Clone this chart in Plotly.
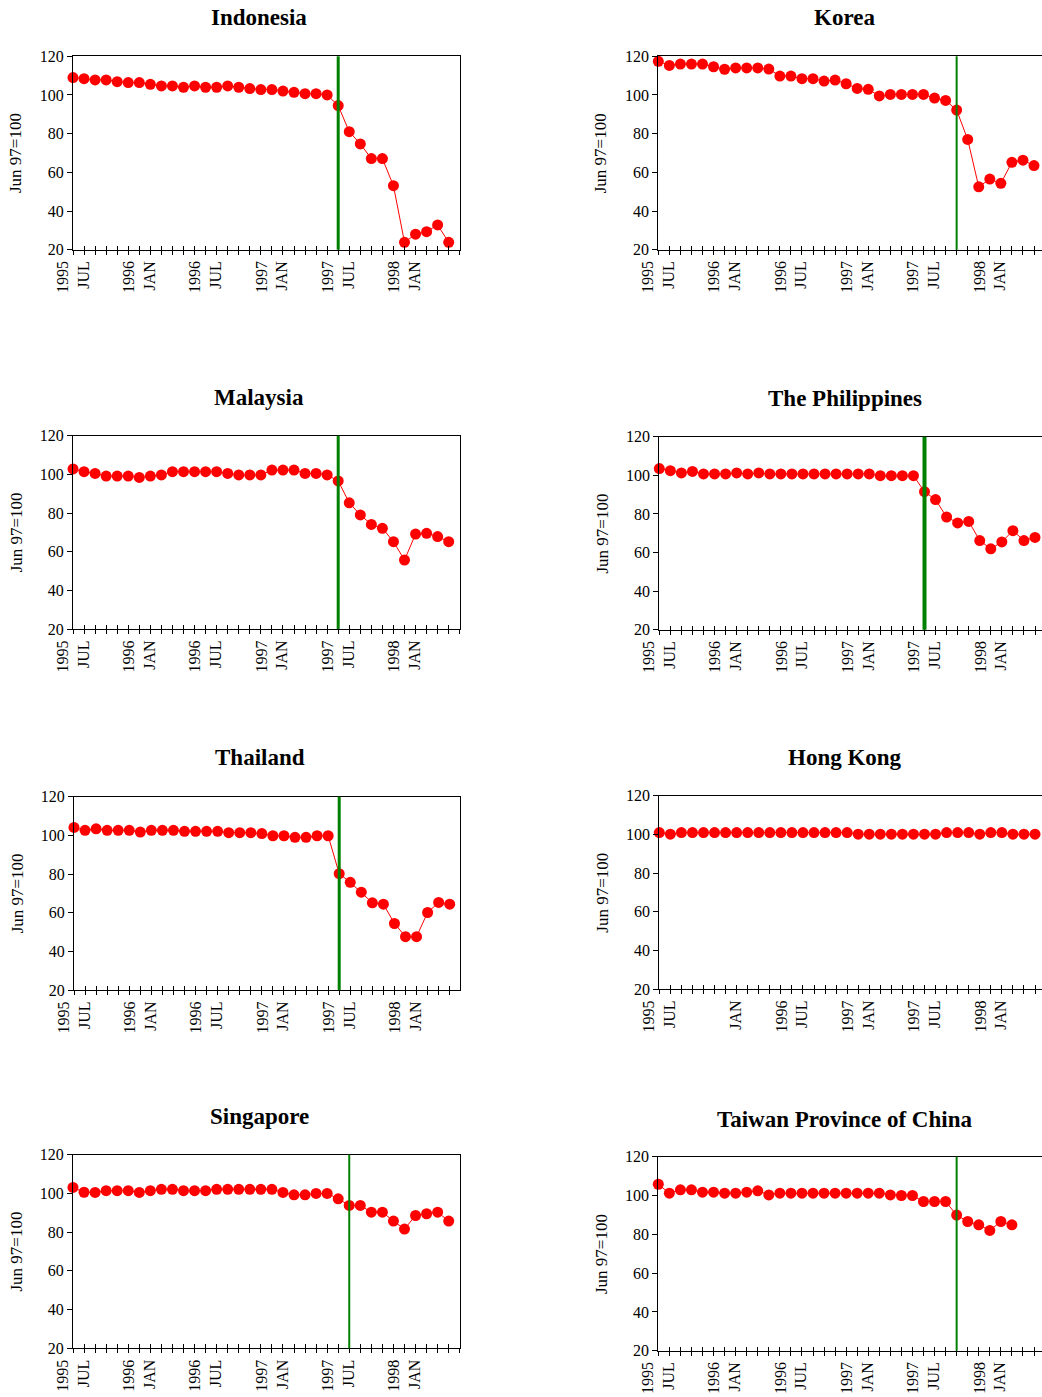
import plotly.graph_objects as go

W, H = 1042, 1397

# ---------------- data ----------------
months = ["Jul 1995", "Aug 1995", "Sep 1995", "Oct 1995", "Nov 1995", "Dec 1995",
          "Jan 1996", "Feb 1996", "Mar 1996", "Apr 1996", "May 1996", "Jun 1996",
          "Jul 1996", "Aug 1996", "Sep 1996", "Oct 1996", "Nov 1996", "Dec 1996",
          "Jan 1997", "Feb 1997", "Mar 1997", "Apr 1997", "May 1997", "Jun 1997",
          "Jul 1997", "Aug 1997", "Sep 1997", "Oct 1997", "Nov 1997", "Dec 1997",
          "Jan 1998", "Feb 1998", "Mar 1998", "Apr 1998", "May 1998", "Jun 1998"]

label_months = ["Jul 1995", "Jan 1996", "Jul 1996", "Jan 1997", "Jul 1997", "Jan 1998"]
tick_labels = ["1995<br>JUL", "1996<br>JAN", "1996<br>JUL", "1997<br>JAN", "1997<br>JUL", "1998<br>JAN"]
tick_labels_hk = ["1995<br>JUL", " <br>JAN", "1996<br>JUL", "1997<br>JAN", "1997<br>JUL", "1998<br>JAN"]

y_ticks = [20, 40, 60, 80, 100, 120]

indonesia = [109, 108.4, 107.8, 107.8, 106.9, 106.4, 106.4, 105.5, 104.7, 104.7,
             104, 104.7, 104, 104, 104.7, 104, 103.3, 102.8, 102.8, 102,
             101.4, 100.7, 100.7, 100, 94.5, 81, 74.7, 67.1, 67.1, 53.1,
             23.8, 28, 29.3, 32.8, 23.8]
korea = [117.4, 115.3, 116, 116, 116, 114.6, 113.3, 114, 114, 114,
         113.4, 109.8, 109.8, 108.4, 108.4, 107.2, 107.7, 105.8, 103.4, 102.9,
         99.5, 100.3, 100.3, 100.3, 100.3, 98.4, 97.2, 92.2, 77, 52.5,
         56.5, 54.3, 65.2, 66.3, 63.5]
malaysia = [102.8, 101.4, 100.5, 99.1, 99.1, 99.1, 98.4, 99.1, 99.7, 101.4,
            101.4, 101.4, 101.4, 101.4, 100.5, 99.7, 99.7, 99.7, 102.2, 102.2,
            102.2, 100.5, 100.5, 99.7, 96.6, 85.3, 79, 74.1, 72.1, 65.2,
            55.7, 69.1, 69.5, 67.8, 65.2]
philippines = [103.5, 102.4, 101.2, 102, 100.7, 100.7, 100.7, 101.2, 100.7, 101.2,
               100.7, 100.7, 100.7, 100.7, 100.7, 100.7, 100.7, 100.7, 100.7, 100.7,
               99.8, 99.8, 99.8, 99.8, 91.5, 87.4, 78.4, 75.3, 76.1, 66.2,
               61.9, 65.5, 71.3, 66.2, 67.8]
thailand = [104.1, 102.6, 103.4, 102.6, 102.6, 102.6, 101.7, 102.6, 102.6, 102.6,
            102.1, 102.1, 102.1, 102.1, 101.4, 101.4, 101.4, 100.9, 99.8, 99.8,
            99, 99, 99.8, 99.8, 80.2, 75.7, 70.6, 65.1, 64.4, 54.4,
            47.6, 47.6, 60.1, 65.3, 64.4]
hong_kong = [100.9, 100.1, 100.9, 100.9, 100.9, 100.9, 100.9, 100.9, 100.9, 100.9,
             100.9, 100.9, 100.9, 100.9, 100.9, 100.9, 100.9, 100.9, 100.1, 100.1,
             100.1, 100.1, 100.1, 100.1, 100.1, 100.1, 100.9, 100.9, 100.9, 100.1,
             100.9, 100.9, 100.1, 100.1, 100.1]
singapore = [103.1, 100.6, 100.5, 101.4, 101.4, 101.4, 100.5, 101.4, 102.1, 102.1,
             101.4, 101.4, 101.4, 102.1, 102.1, 102.1, 102.1, 102.1, 102.1, 100.5,
             99.3, 99.3, 100, 100, 97.2, 93.8, 93.8, 90.3, 90.3, 85.7,
             81.6, 88.6, 89.5, 90.3, 85.7]
taiwan = [105.8, 101.2, 102.9, 102.9, 101.7, 101.7, 101.2, 101.2, 101.7, 102.4,
          100.3, 101.2, 101.2, 101.2, 101.2, 101.2, 101.2, 101.2, 101.2, 101.2,
          101.2, 100.3, 100, 100, 96.9, 96.9, 96.9, 89.9, 86.6, 84.9,
          82, 86.6, 84.9]

titles = ["Indonesia", "Korea", "Malaysia", "The Philippines",
          "Thailand", "Hong Kong", "Singapore", "Taiwan Province of China"]
series = [indonesia, korea, malaysia, philippines, thailand, hong_kong, singapore, taiwan]
crisis_months = ["Jul 1997", "Oct 1997", "Jul 1997", "Jul 1997",
                 "Jul 1997", None, "Aug 1997", "Oct 1997"]
panel_tick_labels = [tick_labels, tick_labels, tick_labels, tick_labels,
                     tick_labels, tick_labels_hk, tick_labels, tick_labels]

# ---------------- layout (pixel boxes: left, top, right, bottom) ----------------
boxes = [
    (73, 56.3, 460, 249.7), (658.3, 56.3, 1042, 249.7),
    (73, 435.7, 460, 629), (659.3, 436.7, 1042, 629.7),
    (74, 796.7, 460, 990), (659.3, 795.7, 1042, 989),
    (73, 1154.7, 460, 1348.3), (658.3, 1156.7, 1042, 1350.7),
]
title_pos = [(259, 18), (844, 18), (259, 397), (845, 398),
             (260, 757), (845, 757), (259, 1116), (844, 1119)]
green_width = [3, 2, 3, 4, 3, 0, 2, 2]
unit_px = 11.05  # pixel width per month in the reference

FONT = "Liberation Serif, Times New Roman, serif"
RED = "#FF0000"
GREEN = "#008000"

fig = go.Figure()
layout = dict(
    width=W, height=H, autosize=False,
    margin=dict(l=0, r=0, t=0, b=0, pad=0, autoexpand=False),
    paper_bgcolor="white", plot_bgcolor="white", showlegend=False,
    font=dict(family=FONT, color="black", size=16),
)
annotations = []
shapes = []

x_idx = list(range(len(months)))
label_idx = [months.index(m) for m in label_months]
n = len(titles)

for i in range(n):
    k = i + 1
    xa = "x" if k == 1 else f"x{k}"
    ya = "y" if k == 1 else f"y{k}"
    ov = f"x{k + n}"
    l, t, r, b = boxes[i]
    xd = [l / W, r / W]
    yd = [1 - b / H, 1 - t / H]
    xmax = (r - l) / unit_px

    vals = series[i]
    fig.add_trace(go.Scatter(
        x=x_idx[:len(vals)], y=vals, mode="lines+markers",
        line=dict(color=RED, width=1),
        marker=dict(color=RED, size=11, line=dict(width=0)),
        cliponaxis=False, xaxis=xa, yaxis=ya, hoverinfo="skip"))
    # invisible trace for the overlay axis (inner half of the crossing ticks)
    fig.add_trace(go.Scatter(x=[None], y=[None], xaxis=ov, yaxis=ya,
                             mode="markers", hoverinfo="skip"))

    txt = []
    for j in x_idx:
        txt.append(panel_tick_labels[i][label_idx.index(j)] if j in label_idx else "")

    is_right = (i % 2 == 1)
    layout[f"xaxis{k}"] = dict(
        domain=xd, anchor=ya, range=[0, xmax], automargin=False,
        tickmode="array", tickvals=x_idx, ticktext=txt, tickangle=-90,
        ticks="outside", ticklen=4, tickwidth=1, tickcolor="black",
        showline=True, linecolor="black", linewidth=1, mirror=True,
        showgrid=False, zeroline=False,
        tickfont=dict(family=FONT, size=16, color="black"),
    )
    layout[f"xaxis{k + n}"] = dict(
        domain=xd, anchor=ya, overlaying=xa, range=[0, xmax], automargin=False,
        tickmode="array", tickvals=x_idx, showticklabels=False,
        ticks="inside", ticklen=4, tickwidth=1, tickcolor="black",
        showline=False, showgrid=False, zeroline=False,
    )
    layout[f"yaxis{k}"] = dict(
        domain=yd, anchor=xa, range=[20, 120], automargin=False,
        tickmode="array", tickvals=y_ticks,
        ticks="outside", ticklen=5, tickwidth=1, tickcolor="black",
        showline=True, linecolor="black", linewidth=1, mirror=not is_right,
        showgrid=False, zeroline=False,
        tickfont=dict(family=FONT, size=16, color="black"),
    )

    # panel title
    tx, ty = title_pos[i]
    annotations.append(dict(
        text=f"<b>{titles[i]}</b>", xref="paper", yref="paper",
        x=tx / W, y=1 - ty / H, xanchor="center", yanchor="middle",
        showarrow=False, font=dict(family=FONT, size=23, color="black")))
    # y-axis title
    annotations.append(dict(
        text="Jun 97=100", xref="paper", yref="paper",
        x=(l - 57) / W, y=1 - (t + b) / 2 / H, xanchor="center", yanchor="middle",
        textangle=-90, showarrow=False,
        font=dict(family=FONT, size=17, color="black")))

    # crisis marker line
    if crisis_months[i] is not None:
        cx = months.index(crisis_months[i])
        shapes.append(dict(
            type="line", xref=xa, yref=f"{ya} domain",
            x0=cx, x1=cx, y0=0, y1=1, layer="above",
            line=dict(color=GREEN, width=green_width[i])))

layout["annotations"] = annotations
layout["shapes"] = shapes
fig.update_layout(**layout)

fig.write_html(
    "out.html",
    config={"displayModeBar": False, "staticPlot": True},
    post_script=("document.body.style.margin='0';"
                 "document.body.style.padding='0';"
                 "document.body.style.overflow='hidden';"
                 "document.documentElement.style.overflow='hidden';"),
)
